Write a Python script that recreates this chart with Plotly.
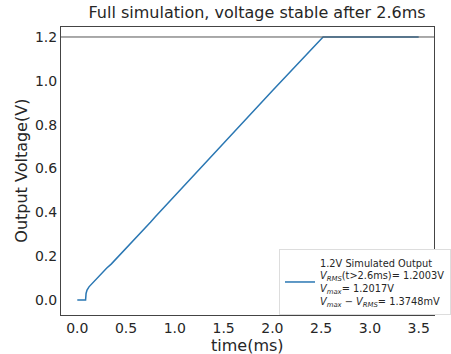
import plotly.graph_objects as go

# data
time_ms = [0.0, 0.05, 0.085, 0.09, 0.10, 0.12, 0.2, 0.3, 0.35, 0.5, 0.75, 0.8, 1.0, 1.5, 2.0, 2.3, 2.52,
           2.6, 2.7, 2.8, 2.9, 3.0, 3.1, 3.2, 3.3, 3.4, 3.5]
voltage = [0.0, 0.0, 0.0, 0.03, 0.045, 0.06, 0.10, 0.145, 0.165, 0.235, 0.355, 0.38, 0.475, 0.715, 0.955, 1.098, 1.2003,
           1.2003, 1.2002, 1.2004, 1.2003, 1.2002, 1.2004, 1.2003, 1.2002, 1.2004, 1.2003]
ref_level = 1.2
x_ticks = [0.0, 0.5, 1.0, 1.5, 2.0, 2.5, 3.0, 3.5]
y_ticks = [0.0, 0.2, 0.4, 0.6, 0.8, 1.0, 1.2]

legend_name = ("1.2V Simulated Output<br>"
               "<i>V</i><sub><i>RMS</i></sub>(t>2.6ms)= 1.2003V<br>"
               "<i>V</i><sub><i>max</i></sub>= 1.2017V<br>"
               "<i>V</i><sub><i>max</i></sub> − <i>V</i><sub><i>RMS</i></sub>= 1.3748mV")

fig = go.Figure()
fig.add_trace(go.Scatter(x=time_ms, y=voltage, mode="lines", name=legend_name,
                         line=dict(color="#2a77b3", width=1.5)))
fig.add_hline(y=ref_level, line=dict(color="#555555", width=1))

font = "DejaVu Sans, sans-serif"
fig.update_layout(
    width=451, height=354,
    margin=dict(l=61, r=0, t=27, b=39),
    paper_bgcolor="white", plot_bgcolor="white",
    font=dict(family=font, color="#262626"),
    title=dict(text="Full simulation, voltage stable after 2.6ms", x=0.57, xanchor="center",
               xref="container", y=0.98, yanchor="top",
               font=dict(size=16, family=font, color="#262626")),
    showlegend=True,
    legend=dict(x=0.585, xanchor="left", y=0.0, yanchor="bottom",
                bgcolor="white", bordercolor="#dddddd", borderwidth=1,
                font=dict(size=9.8, family=font, color="#262626"), itemwidth=30,
                tracegroupgap=0),
    xaxis=dict(range=[-0.167, 3.657], tickvals=x_ticks, ticktext=[f"{v:.1f}" for v in x_ticks],
               showgrid=False, zeroline=False, showline=True, linecolor="#444444", linewidth=1,
               mirror=True, ticks="", tickfont=dict(size=14), automargin=False),
    yaxis=dict(range=[-0.0684, 1.2456], tickvals=y_ticks, ticktext=[f"{v:.1f}" for v in y_ticks],
               showgrid=False, zeroline=False, showline=True, linecolor="#444444", linewidth=1,
               mirror=True, ticks="", tickfont=dict(size=14), automargin=False),
    annotations=[
        dict(text="time(ms)", xref="paper", yref="paper", x=0.5, y=-0.105, xanchor="center",
             yanchor="middle", showarrow=False, font=dict(size=16, family=font, color="#262626")),
        dict(text="Output Voltage(V)", xref="paper", yref="paper", x=-0.108, y=0.5,
             xanchor="center", yanchor="middle", textangle=-90, showarrow=False,
             font=dict(size=16, family=font, color="#262626")),
    ],
)
fig.write_html("out.html", config={"displayModeBar": False},
               post_script="document.body.style.margin='0';document.body.style.overflow='hidden';")
